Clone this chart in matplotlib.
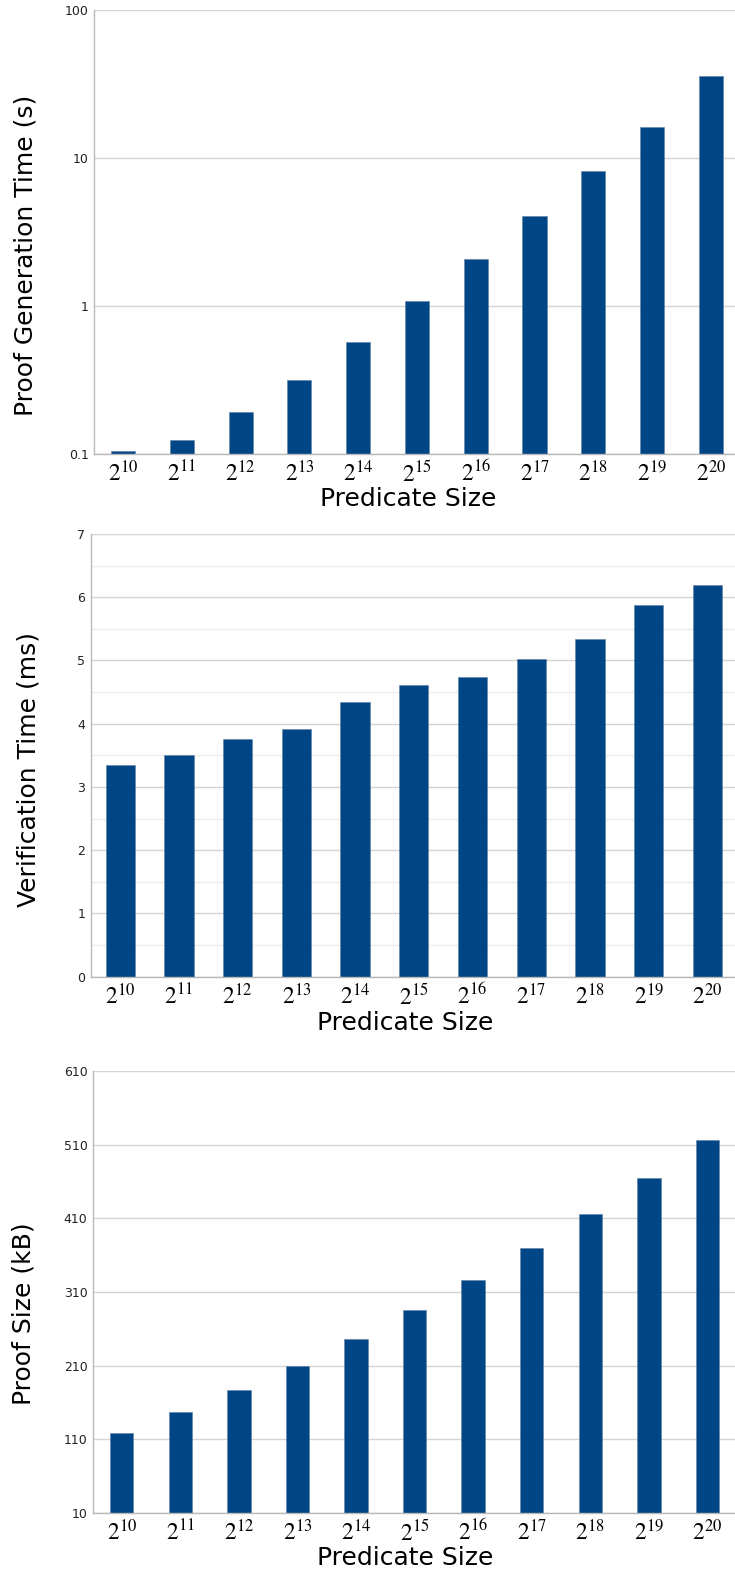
import matplotlib as mpl
mpl.use("Agg")
import matplotlib.pyplot as plt
from matplotlib.ticker import FixedLocator, MultipleLocator, NullLocator

# predicate sizes as powers of two
exponents = [10, 11, 12, 13, 14, 15, 16, 17, 18, 19, 20]
size_labels = [f"$2^{{{e}}}$" for e in exponents]

# proof generation time (s), log scale
gen_time = [0.105, 0.124, 0.19, 0.315, 0.566, 1.077, 2.07, 4.05, 8.15, 16.1, 35.8]
# verification time (ms)
verify_time = [3.34, 3.50, 3.76, 3.91, 4.34, 4.61, 4.74, 5.02, 5.34, 5.88, 6.19]
# proof size (kB)
proof_size = [118, 146.5, 177, 210, 246, 285, 326, 370, 416, 465, 516]

bar_color = "#004586"
grid_color = "#d4d4d4"
spine_color = "#b8b8b8"

plt.rcParams["mathtext.fontset"] = "stix"
plt.rcParams["font.family"] = "DejaVu Sans"

fig = plt.figure(figsize=(7.35, 15.74), dpi=100)
W, H = 735.0, 1574.0


def make_axes(left, top, bottom):
    return fig.add_axes([left / W, 1 - bottom / H, 1 - left / W, (bottom - top) / H])


def style(ax, xlim, width, values, ylabel, ylabel_pos, xlabel_pos):
    x = list(range(len(values)))
    ax.bar(x, values, width=width, color=bar_color, edgecolor="#5d7fa6",
           linewidth=0.4, zorder=3)
    ax.set_xlim(*xlim)
    ax.set_xticks(x)
    ax.set_xticklabels(size_labels, fontsize=17)
    ax.tick_params(axis="x", length=0, pad=5)
    ax.tick_params(axis="y", length=0, pad=4, labelsize=9, labelcolor="#222222")
    ax.tick_params(which="minor", length=0)
    for s in ["top", "right"]:
        ax.spines[s].set_visible(False)
    for s in ["left", "bottom"]:
        ax.spines[s].set_color(spine_color)
        ax.spines[s].set_linewidth(1.0)
        ax.spines[s].set_zorder(4)
    ax.grid(axis="y", which="major", color=grid_color, linewidth=1.0, zorder=0)
    ax.set_xlabel("Predicate Size", fontsize=18, va="top")
    ax.xaxis.set_label_coords(*xlabel_pos)
    ax.set_ylabel(ylabel, fontsize=18)
    ax.yaxis.set_label_coords(*ylabel_pos)


# panel 1: proof generation time
ax1 = make_axes(94.3, 10, 453.7)
ax1.set_yscale("log")
ax1.set_ylim(0.1, 100)
ax1.yaxis.set_major_locator(FixedLocator([0.1, 1, 10, 100]))
ax1.yaxis.set_minor_locator(NullLocator())
ax1.set_yticklabels(["0.1", "1", "10", "100"])
style(ax1, (-0.488, 10.41), 0.41, gen_time, "Proof Generation Time (s)",
      (-0.088, 0.446), (0.49, -0.074))

# panel 2: verification time
ax2 = make_axes(91, 534, 976.7)
ax2.set_ylim(0, 7)
ax2.yaxis.set_major_locator(MultipleLocator(1))
ax2.yaxis.set_minor_locator(MultipleLocator(0.5))
ax2.grid(axis="y", which="minor", color="#ececec", linewidth=1.0, zorder=0)
style(ax2, (-0.497, 10.47), 0.5, verify_time, "Verification Time (ms)",
      (-0.079, 0.469), (0.488, -0.077))

# panel 3: proof size
ax3 = make_axes(93, 1071.3, 1512.7)
ax3.set_ylim(10, 610)
ax3.yaxis.set_major_locator(FixedLocator([10, 110, 210, 310, 410, 510, 610]))
style(ax3, (-0.49, 10.47), 0.40, proof_size, "Proof Size (kB)",
      (-0.09, 0.45), (0.487, -0.075))

fig.savefig("out.png", dpi=100)
